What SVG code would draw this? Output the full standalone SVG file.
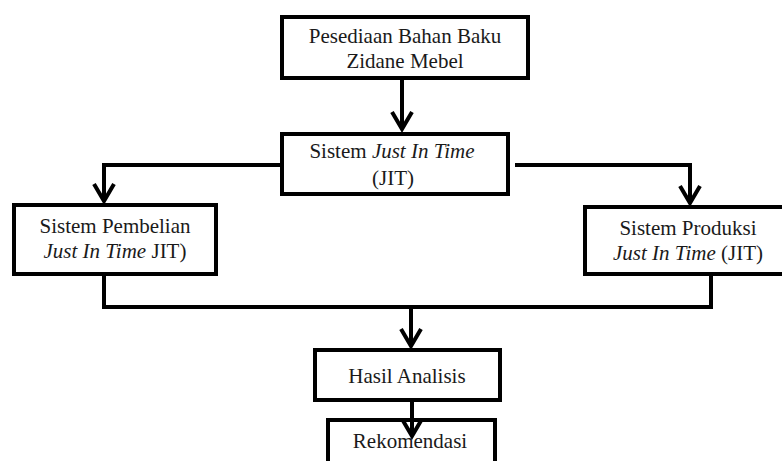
<svg xmlns="http://www.w3.org/2000/svg" width="782" height="461" viewBox="0 0 782 461">
<style>
.box{fill:#fff;stroke:#000;stroke-width:4}
.ln{fill:none;stroke:#000;stroke-width:4}
text{font-family:'Liberation Serif','DejaVu Serif',serif;font-size:21px;fill:#1a1a1a;text-anchor:middle}
.it{font-style:italic}
</style>
<defs>
<marker id="ah" markerUnits="userSpaceOnUse" viewBox="-22 -14 26 28" refX="0" refY="0" markerWidth="26" markerHeight="28" orient="auto">
<path d="M-17,-10 L0,0 L-17,10" fill="none" stroke="#000" stroke-width="4"/>
</marker>
</defs>
<rect width="782" height="461" fill="#fff"/>
<g id="n1"><rect class="box" x="282" y="17" width="246" height="61"/>
<text x="405" y="43" font-family="Liberation Serif, serif">Pesediaan Bahan Baku</text>
<text x="405" y="68">Zidane Mebel</text></g>
<g id="n2"><rect class="box" x="282" y="134" width="226" height="60"/>
<text x="392" y="158">Sistem <tspan class="it">Just In Time</tspan></text>
<text x="393" y="185">(JIT)</text></g>
<g id="n3"><rect class="box" x="14" y="205" width="202" height="69"/>
<text x="115" y="233">Sistem Pembelian</text>
<text x="115" y="258"><tspan class="it">Just In Time</tspan> JIT)</text></g>
<g id="n4"><rect class="box" x="585" y="207" width="210" height="67"/>
<text x="688" y="235">Sistem Produksi</text>
<text x="688" y="260"><tspan class="it">Just In Time</tspan> (JIT)</text></g>
<g id="n5"><rect class="box" x="315" y="350" width="185" height="50"/>
<text x="407" y="383">Hasil Analisis</text></g>
<g id="n6"><rect class="box" x="328" y="420" width="167" height="60"/>
<text x="410" y="448">Rekomendasi</text></g>
<g id="connectors">
<path class="ln" d="M402,78 V129" marker-end="url(#ah)"/>
<path class="ln" d="M282,165 H104 V201" marker-end="url(#ah)"/>
<path class="ln" d="M515,165 H690 V203" marker-end="url(#ah)"/>
<path class="ln" d="M104,274 V307 H711 V274"/>
<path class="ln" d="M411,307 V346" marker-end="url(#ah)"/>
<path class="ln" d="M412,400 V436" marker-end="url(#ah)"/>
</g>
</svg>
